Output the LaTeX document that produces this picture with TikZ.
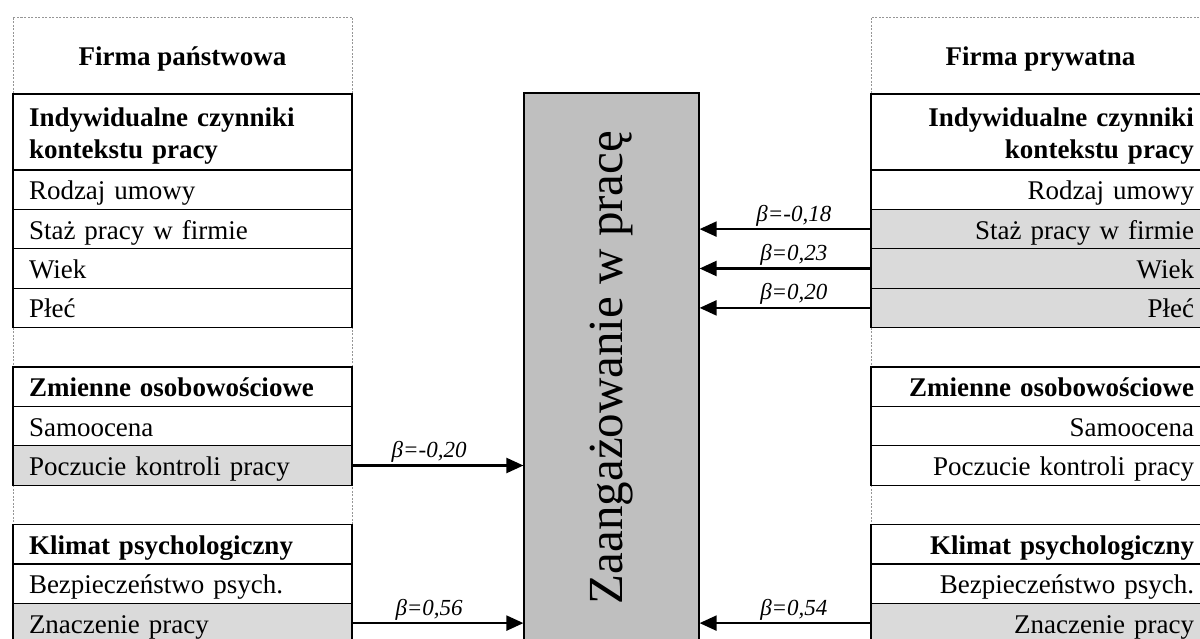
\documentclass[tikz,border=0pt]{standalone}
\usepackage{fontspec}
\setmainfont{Liberation Serif}
\usepackage{graphicx}
\usetikzlibrary{arrows.meta, positioning}
\definecolor{CellGray}{RGB}{218,218,218}
\definecolor{CoreGray}{RGB}{191,191,191}
\definecolor{DashGray}{RGB}{150,150,150}

\begin{document}
\begin{tikzpicture}[x=1pt, y=-1pt,
    cellbase/.style={draw, rectangle, line width=1.2pt, outer sep=0pt, inner xsep=16pt, minimum width=339pt, minimum height=39.4pt, text width=307pt, font=\fontsize{27}{31.6}\selectfont},
    cell/.style={cellbase, text height=20pt, text depth=0pt},
    lcell/.style={cell, align=left},
    rcell/.style={cell, align=right},
    boldtext/.style={font=\fontsize{27}{31.6}\selectfont\bfseries},
    signif/.style={fill=CellGray},
    dashcell/.style={draw=DashGray, line width=0.6pt, dash pattern=on 2pt off 1.5pt, rectangle, outer sep=0pt, minimum width=339pt, minimum height=39.4pt, text height=20pt, text depth=0pt, align=center},
    core/.style={draw, line width=1.2pt, fill=CoreGray, minimum width=175pt, minimum height=549pt, inner sep=0pt, font=\fontsize{49}{58}\selectfont},
    link/.style={-{Triangle[length=17pt, width=15pt]}, line width=2.2pt},
    beta/.style={above, pos=0.45, inner sep=2pt, font=\fontsize{23}{27}\selectfont\itshape}]

    \useasboundingbox (0,0) rectangle (1200,639);

    % Dashed cells
    \node[dashcell, boldtext, minimum height=77pt] (lhead) at (182.5,55.5) {Firma państwowa};
    \node[dashcell] (lgap1) at (182.5,347.3) {};
    \node[dashcell] (lgap2) at (182.5,504.9) {};
    \node[dashcell, boldtext, minimum height=77pt] (rhead) at (1040.5,55.5) {Firma prywatna};
    \node[dashcell] (rgap1) at (1040.5,347.3) {};
    \node[dashcell] (rgap2) at (1040.5,504.9) {};

    % Firma panstwowa
    \node[cellbase, boldtext, align=left, minimum height=76pt, below=0pt of lhead] (lind) {\rule{0pt}{1.0em}Indywidualne czynniki\\kontekstu pracy};
    \node[lcell, below=0pt of lind] (lrodz) {Rodzaj umowy};
    \node[lcell, below=0pt of lrodz] (lstaz) {Staż pracy w firmie};
    \node[lcell, below=0pt of lstaz] (lwiek) {Wiek};
    \node[lcell, below=0pt of lwiek] (lplec) {Płeć};
    \node[lcell, boldtext, below=0pt of lgap1] (lzm) {Zmienne osobowościowe};
    \node[lcell, below=0pt of lzm] (lsamo) {Samoocena};
    \node[lcell, signif, below=0pt of lsamo] (lpocz) {Poczucie kontroli pracy};
    \node[lcell, boldtext, below=0pt of lgap2] (lklim) {Klimat psychologiczny};
    \node[lcell, below=0pt of lklim] (lbezp) {Bezpieczeństwo psych.};
    \node[lcell, signif, below=0pt of lbezp] (lznacz) {Znaczenie pracy};

    % Firma prywatna
    \node[cellbase, boldtext, align=right, minimum height=76pt, below=0pt of rhead] (rind) {\rule{0pt}{1.0em}Indywidualne czynniki\\kontekstu pracy};
    \node[rcell, below=0pt of rind] (rrodz) {Rodzaj umowy};
    \node[rcell, signif, below=0pt of rrodz] (rstaz) {Staż pracy w firmie};
    \node[rcell, signif, below=0pt of rstaz] (rwiek) {Wiek};
    \node[rcell, signif, below=0pt of rwiek] (rplec) {Płeć};
    \node[rcell, boldtext, below=0pt of rgap1] (rzm) {Zmienne osobowościowe};
    \node[rcell, below=0pt of rzm] (rsamo) {Samoocena};
    \node[rcell, below=0pt of rsamo] (rpocz) {Poczucie kontroli pracy};
    \node[rcell, boldtext, below=0pt of rgap2] (rklim) {Klimat psychologiczny};
    \node[rcell, below=0pt of rklim] (rbezp) {Bezpieczeństwo psych.};
    \node[rcell, signif, below=0pt of rbezp] (rznacz) {Znaczenie pracy};

    % Central variable
    \node[core] (core) at (611.5,367.5) {\rotatebox{90}{Zaangażowanie w pracę}};

    % Paths
    \draw[link] (lpocz) -- node[beta] {β=-0,20} (lpocz -| core.west);
    \draw[link] (lznacz) -- node[beta] {β=0,56} (lznacz -| core.west);
    \draw[link] (rstaz) -- node[beta] {β=-0,18} (rstaz -| core.east);
    \draw[link] (rwiek) -- node[beta] {β=0,23} (rwiek -| core.east);
    \draw[link] (rplec) -- node[beta] {β=0,20} (rplec -| core.east);
    \draw[link] (rznacz) -- node[beta] {β=0,54} (rznacz -| core.east);
\end{tikzpicture}
\end{document}
